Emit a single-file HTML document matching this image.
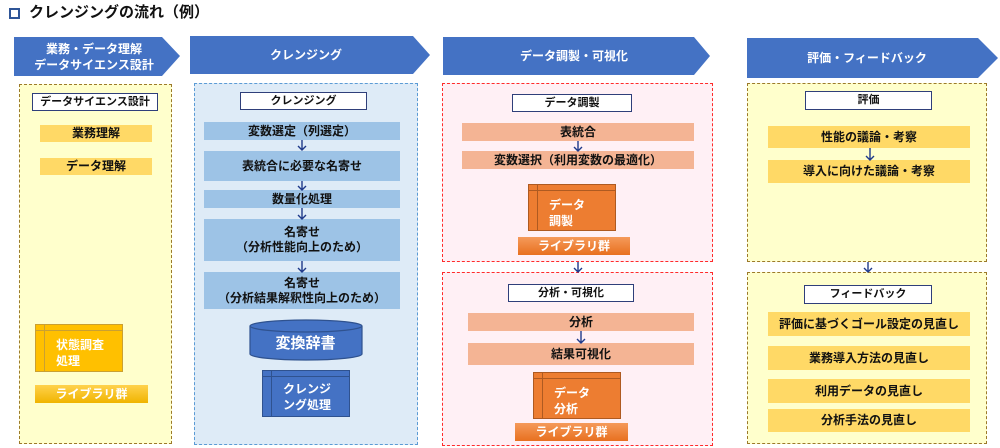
<!DOCTYPE html>
<html><head><meta charset="utf-8"><style>
*{margin:0;padding:0;box-sizing:border-box}
body{width:1000px;height:448px;background:#fff;position:relative;overflow:hidden;font-family:"Liberation Sans","Noto Sans CJK JP",sans-serif;font-weight:bold;color:#111}
.a{position:absolute}
.c{position:absolute;display:flex;align-items:center;justify-content:center;text-align:center;font-size:12px;line-height:15px}
.hd{background:#fff;border:1.5px solid #2f3f7a;font-size:11px}
.y{background:#ffd966}
.b{background:#9dc3e6}
.o{background:#f4b494}
.dash{position:absolute;border:1.5px dashed}
.arr{position:absolute;width:10px;height:10px}
.mod{position:absolute;color:#fff;font-size:12px;line-height:16px}
.mod .v{position:absolute;left:0;top:0;bottom:0;width:9px;border-right:1.5px solid}
.mod .h{position:absolute;left:0;right:0;top:0;height:6px;border-bottom:1.5px solid}
.mod .t{position:absolute;left:20px;top:12px}
</style></head><body>
<div class="a" style="left:9px;top:8px;width:11px;height:11px;border:2px solid #2f5597"></div>
<div class="a" style="left:29px;top:3px;font-size:15px;line-height:20px">クレンジングの流れ（例）</div>

<svg class="a" style="left:0;top:0" width="1000" height="90">
<polygon points="14,37 162,37 180,56 162,76 14,76" fill="#4472c4"/>
<polygon points="190,36 413,36 430,55 413,74 190,74" fill="#4472c4"/>
<polygon points="443,37 694,37 710,56 694,75 443,75" fill="#4472c4"/>
<polygon points="747,38 978,38 998,58 978,78 747,78" fill="#4472c4"/>
</svg>
<div class="c" style="left:14px;top:37px;width:160px;height:39px;color:#fff;font-size:12px;line-height:16px">業務・データ理解<br>データサイエンス設計</div>
<div class="c" style="left:190px;top:36px;width:232px;height:38px;color:#fff;font-size:12px">クレンジング</div>
<div class="c" style="left:443px;top:37px;width:262px;height:38px;color:#fff;font-size:12px">データ調製・可視化</div>
<div class="c" style="left:747px;top:38px;width:240px;height:40px;color:#fff;font-size:12px">評価・フィードバック</div>

<!-- panels -->
<div class="dash" style="left:19px;top:84px;width:153px;height:360px;background:#ffffcc;border-color:#9c7a2a"></div>
<div class="dash" style="left:194px;top:83px;width:224px;height:362px;background:#deebf7;border-color:#5b9bd5"></div>
<div class="dash" style="left:442px;top:83px;width:271px;height:179px;background:#fff0f5;border-color:#ff2b2b"></div>
<div class="dash" style="left:442px;top:272px;width:271px;height:174px;background:#fff0f5;border-color:#ff2b2b"></div>
<div class="dash" style="left:747px;top:83px;width:240px;height:179px;background:#ffffcc;border-color:#9c7a2a"></div>
<div class="dash" style="left:747px;top:272px;width:240px;height:172px;background:#ffffcc;border-color:#9c7a2a"></div>

<!-- P1 -->
<div class="c hd" style="left:32px;top:93px;width:126px;height:18px">データサイエンス設計</div>
<div class="c y" style="left:40px;top:125px;width:112px;height:17px">業務理解</div>
<div class="c y" style="left:40px;top:158px;width:112px;height:17px">データ理解</div>
<div class="mod" style="left:35px;top:324px;width:88px;height:48px;background:#ffc000;border:1.5px solid #c9a032"><div class="v" style="border-color:#c9a032"></div><div class="h" style="border-color:#c9a032"></div><div class="t" style="top:12px">状態調査<br>処理</div></div>
<div class="c" style="left:35px;top:385px;width:113px;height:18px;background:linear-gradient(#ffd24d,#f0b400);color:#fff;font-size:12px">ライブラリ群</div>

<!-- P2 -->
<div class="c hd" style="left:240px;top:92px;width:127px;height:18px">クレンジング</div>
<div class="c b" style="left:204px;top:122px;width:196px;height:18px">変数選定（列選定）</div>
<div class="c b" style="left:204px;top:151px;width:196px;height:30px">表統合に必要な名寄せ</div>
<div class="c b" style="left:204px;top:190px;width:196px;height:18px">数量化処理</div>
<div class="c b" style="left:204px;top:219px;width:196px;height:42px">名寄せ<br>（分析性能向上のため）</div>
<div class="c b" style="left:204px;top:272px;width:196px;height:37px">名寄せ<br>（分析結果解釈性向上のため）</div>
<svg class="a" style="left:249px;top:319px" width="114" height="43">
<path d="M1,7 L1,35 A56,6 0 0 0 113,35 L113,7" fill="#4472c4" stroke="#2f528f" stroke-width="1.2"/>
<ellipse cx="57" cy="7" rx="56" ry="6" fill="#4472c4" stroke="#2f528f" stroke-width="1.2"/>
</svg>
<div class="c" style="left:250px;top:326px;width:111px;height:34px;color:#fff;font-size:15px">変換辞書</div>
<div class="mod" style="left:262px;top:370px;width:88px;height:47px;background:#4472c4;border:1.5px solid #2f528f"><div class="v" style="border-color:#2f528f"></div><div class="h" style="border-color:#2f528f"></div><div class="t" style="left:20px;top:10px">クレンジ<br>ング処理</div></div>

<!-- P3a -->
<div class="c hd" style="left:512px;top:94px;width:120px;height:18px">データ調製</div>
<div class="c o" style="left:462px;top:123px;width:232px;height:18px">表統合</div>
<div class="c o" style="left:462px;top:151px;width:232px;height:18px">変数選択（利用変数の最適化）</div>
<div class="mod" style="left:528px;top:184px;width:88px;height:47px;background:#ed7d31;border:1.5px solid #ae5a21"><div class="v" style="border-color:#ae5a21"></div><div class="h" style="border-color:#ae5a21"></div><div class="t">データ<br>調製</div></div>
<div class="c" style="left:518px;top:237px;width:112px;height:18px;background:linear-gradient(#f59a5a,#e8701f);color:#fff">ライブラリ群</div>
<!-- P3b -->
<div class="c hd" style="left:508px;top:284px;width:126px;height:18px">分析・可視化</div>
<div class="c o" style="left:468px;top:313px;width:226px;height:18px">分析</div>
<div class="c o" style="left:468px;top:343px;width:226px;height:22px">結果可視化</div>
<div class="mod" style="left:533px;top:372px;width:88px;height:47px;background:#ed7d31;border:1.5px solid #ae5a21"><div class="v" style="border-color:#ae5a21"></div><div class="h" style="border-color:#ae5a21"></div><div class="t">データ<br>分析</div></div>
<div class="c" style="left:515px;top:423px;width:113px;height:18px;background:linear-gradient(#f59a5a,#e8701f);color:#fff">ライブラリ群</div>

<!-- P4 -->
<div class="c hd" style="left:805px;top:91px;width:127px;height:19px">評価</div>
<div class="c y" style="left:768px;top:126px;width:202px;height:22px">性能の議論・考察</div>
<div class="c y" style="left:768px;top:160px;width:202px;height:23px">導入に向けた議論・考察</div>
<div class="c hd" style="left:804px;top:285px;width:128px;height:19px">フィードバック</div>
<div class="c y" style="left:768px;top:312px;width:202px;height:24px">評価に基づくゴール設定の見直し</div>
<div class="c y" style="left:768px;top:346px;width:202px;height:24px">業務導入方法の見直し</div>
<div class="c y" style="left:768px;top:379px;width:202px;height:24px">利用データの見直し</div>
<div class="c y" style="left:768px;top:409px;width:202px;height:23px">分析手法の見直し</div>

<!-- arrows -->
<svg class="a" style="left:0;top:0" width="1000" height="448" fill="none" stroke="#1f3a8a" stroke-width="1.4">
<path d="M302,140 v10 M298,146 l4,4 l4,-4"/>
<path d="M302,181 v9 M298,186 l4,4 l4,-4"/>
<path d="M302,208 v11 M298,215 l4,4 l4,-4"/>
<path d="M302,261 v11 M298,268 l4,4 l4,-4"/>
<path d="M578,141 v10 M574,147 l4,4 l4,-4"/>
<path d="M578,262 v10 M574,268 l4,4 l4,-4"/>
<path d="M581,331 v12 M577,339 l4,4 l4,-4"/>
<path d="M870,148 v12 M866,156 l4,4 l4,-4"/>
<path d="M868,262 v10 M864,268 l4,4 l4,-4"/>
</svg>
</body></html>
